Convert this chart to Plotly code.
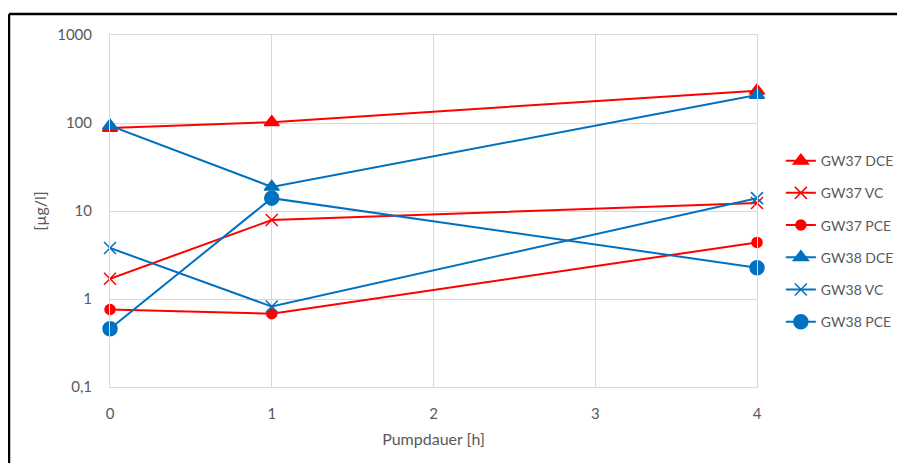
import plotly.graph_objects as go

x_hours = [0, 1, 4]
series_names = ["GW37 DCE", "GW37 VC", "GW37 PCE", "GW38 DCE", "GW38 VC", "GW38 PCE"]
gw37_dce = [88, 102, 233]
gw37_vc = [1.7, 7.9, 12.3]
gw37_pce = [0.76, 0.68, 4.4]
gw38_dce = [93, 18.8, 208]
gw38_vc = [3.8, 0.82, 14]
gw38_pce = [0.46, 14, 2.27]
y_tickvals = [0.1, 1, 10, 100, 1000]
y_ticktext = ["0,1", "1", "10", "100", "1000"]
x_tickvals = [0, 1, 2, 3, 4]

RED = "#FF0000"
BLUE = "#0070C0"
styles = [
    (RED, "triangle-up", 13),
    (RED, "x-thin", 12),
    (RED, "circle", 10),
    (BLUE, "triangle-up", 13),
    (BLUE, "x-thin", 12),
    (BLUE, "circle", 14),
]
values = [gw37_dce, gw37_vc, gw37_pce, gw38_dce, gw38_vc, gw38_pce]

fig = go.Figure()
for i, (name, vals, (col, sym, size)) in enumerate(zip(series_names, values, styles)):
    fig.add_trace(go.Scatter(
        x=x_hours, y=vals, name=name, mode="lines+markers",
        legendgroup=f"g{i}", cliponaxis=False,
        line=dict(color=col, width=2),
        marker=dict(color=col, symbol=sym, size=size,
                    line=dict(color=col, width=1.5)),
    ))

font_fam = "Lato, 'Open Sans', sans-serif"
grid = "#D9D9D9"
fig.update_layout(
    width=905, height=463,
    margin=dict(l=102, r=156, t=27, b=84),
    paper_bgcolor="white", plot_bgcolor="white",
    font=dict(family=font_fam, size=15, color="#595959"),
    legend=dict(xref="container", yref="container", x=0.854, y=0.704,
                xanchor="left", yanchor="top",
                font=dict(size=14, color="#595959"),
                tracegroupgap=11, bgcolor="rgba(0,0,0,0)"),
    xaxis=dict(range=[0, 4], tickvals=x_tickvals, showgrid=True, gridcolor=grid,
               showline=True, linecolor=grid, mirror=True, zeroline=False,
               ticks="", ticklabelstandoff=13,
               title=dict(text="Pumpdauer [h]", standoff=12, font=dict(size=16))),
    yaxis=dict(type="log", range=[-1, 3], tickvals=y_tickvals, ticktext=y_ticktext,
               showgrid=True, gridcolor=grid, showline=True, linecolor=grid,
               mirror=True, zeroline=False, ticks="", ticklabelstandoff=14,
               title=dict(text="[µg/l]", standoff=6, font=dict(size=16))),
    shapes=[
        dict(type="line", xref="paper", yref="paper", x0=-0.1561, x1=1.5,
             y0=1.0597, y1=1.0597, line=dict(color="black", width=2.5)),
        dict(type="line", xref="paper", yref="paper", x0=-0.1561, x1=-0.1561,
             y0=1.0597, y1=-0.5, line=dict(color="black", width=2.5)),
    ],
)
fig.write_html("out.html")
